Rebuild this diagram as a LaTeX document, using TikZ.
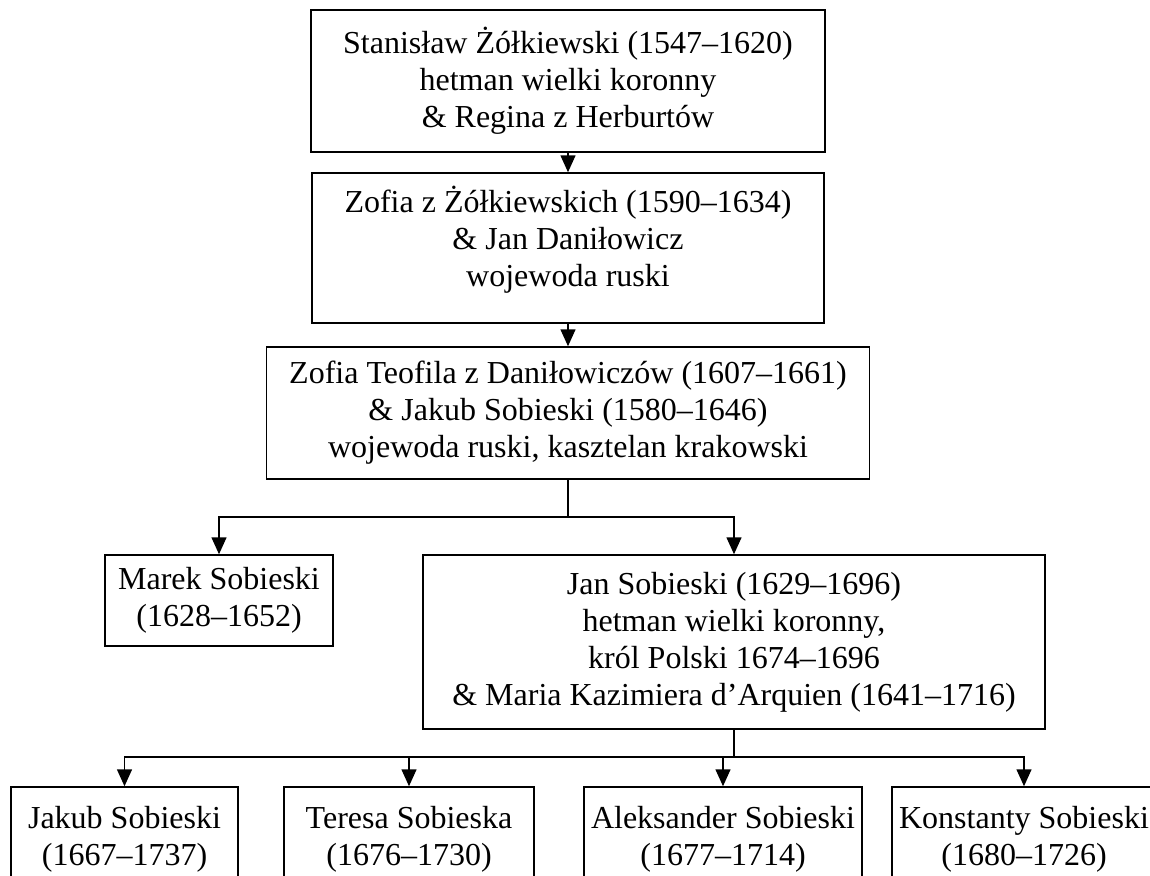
\documentclass[tikz,border=0pt]{standalone}
\usepackage{fontspec}
\setmainfont{Liberation Serif}
\usetikzlibrary{arrows.meta}
\tikzset{
  osoba/.style={draw, line width=1.5pt, align=center, inner sep=0pt, font=\fontsize{32}{37}\selectfont},
  seta/.style={line width=1.5pt, -{Triangle[length=17pt,width=15pt]}},
  linha/.style={line width=1.5pt}
}
\begin{document}
\begin{tikzpicture}[x=1pt, y=-1pt]
  \useasboundingbox (0,0) rectangle (1150,875);
  \clip (0,0) rectangle (1150,875);
  \fill[white] (0,0) rectangle (1150,875);

  %caixas
  \node[osoba, minimum width=514pt, minimum height=142pt] (stanislaw) at (568,81) {Stanisław Żółkiewski (1547–1620)\\hetman wielki koronny\\\& Regina z Herburtów};
  \node[osoba, minimum width=512pt, minimum height=150pt, text depth=23pt] (zofia) at (568,248) {Zofia z Żółkiewskich (1590–1634)\\\& Jan Daniłowicz\\wojewoda ruski};
  \node[osoba, minimum width=603pt, minimum height=132pt] (teofila) at (568,413) {Zofia Teofila z Daniłowiczów (1607–1661)\\\& Jakub Sobieski (1580–1646)\\wojewoda ruski, kasztelan krakowski};
  \node[osoba, minimum width=228pt, minimum height=91pt] (marek) at (219,600.5) {Marek Sobieski\\(1628–1652)};
  \node[osoba, minimum width=622pt, minimum height=174pt] (jan) at (734,642) {Jan Sobieski (1629–1696)\\hetman wielki koronny,\\król Polski 1674–1696\\\& Maria Kazimiera d’Arquien (1641–1716)};
  \node[osoba, minimum width=227pt, minimum height=105pt] (jakub) at (124.5,839.5) {Jakub Sobieski\\(1667–1737)};
  \node[osoba, minimum width=250pt, minimum height=105pt] (teresa) at (409,839.5) {Teresa Sobieska\\(1676–1730)};
  \node[osoba, minimum width=278pt, minimum height=105pt] (aleksander) at (723,839.5) {Aleksander Sobieski\\(1677–1714)};
  \node[osoba, minimum width=264pt, minimum height=105pt] (konstanty) at (1024,839.5) {Konstanty Sobieski\\(1680–1726)};

  %setas
  \draw[seta] (stanislaw) -- (zofia);
  \draw[seta] (zofia) -- (teofila);

  \coordinate (ramo1) at (568,517);
  \draw[linha] (teofila.south) -- (ramo1);
  \draw[seta] (ramo1) -| (marek.north);
  \draw[seta] (ramo1) -| (jan.north);

  \coordinate (ramo2) at (734,757);
  \draw[linha] (jan.south) -- (ramo2);
  \draw[seta] (ramo2) -| (jakub.north);
  \draw[seta] (ramo2) -| (teresa.north);
  \draw[seta] (ramo2) -| (aleksander.north);
  \draw[seta] (ramo2) -| (konstanty.north);
\end{tikzpicture}
\end{document}
